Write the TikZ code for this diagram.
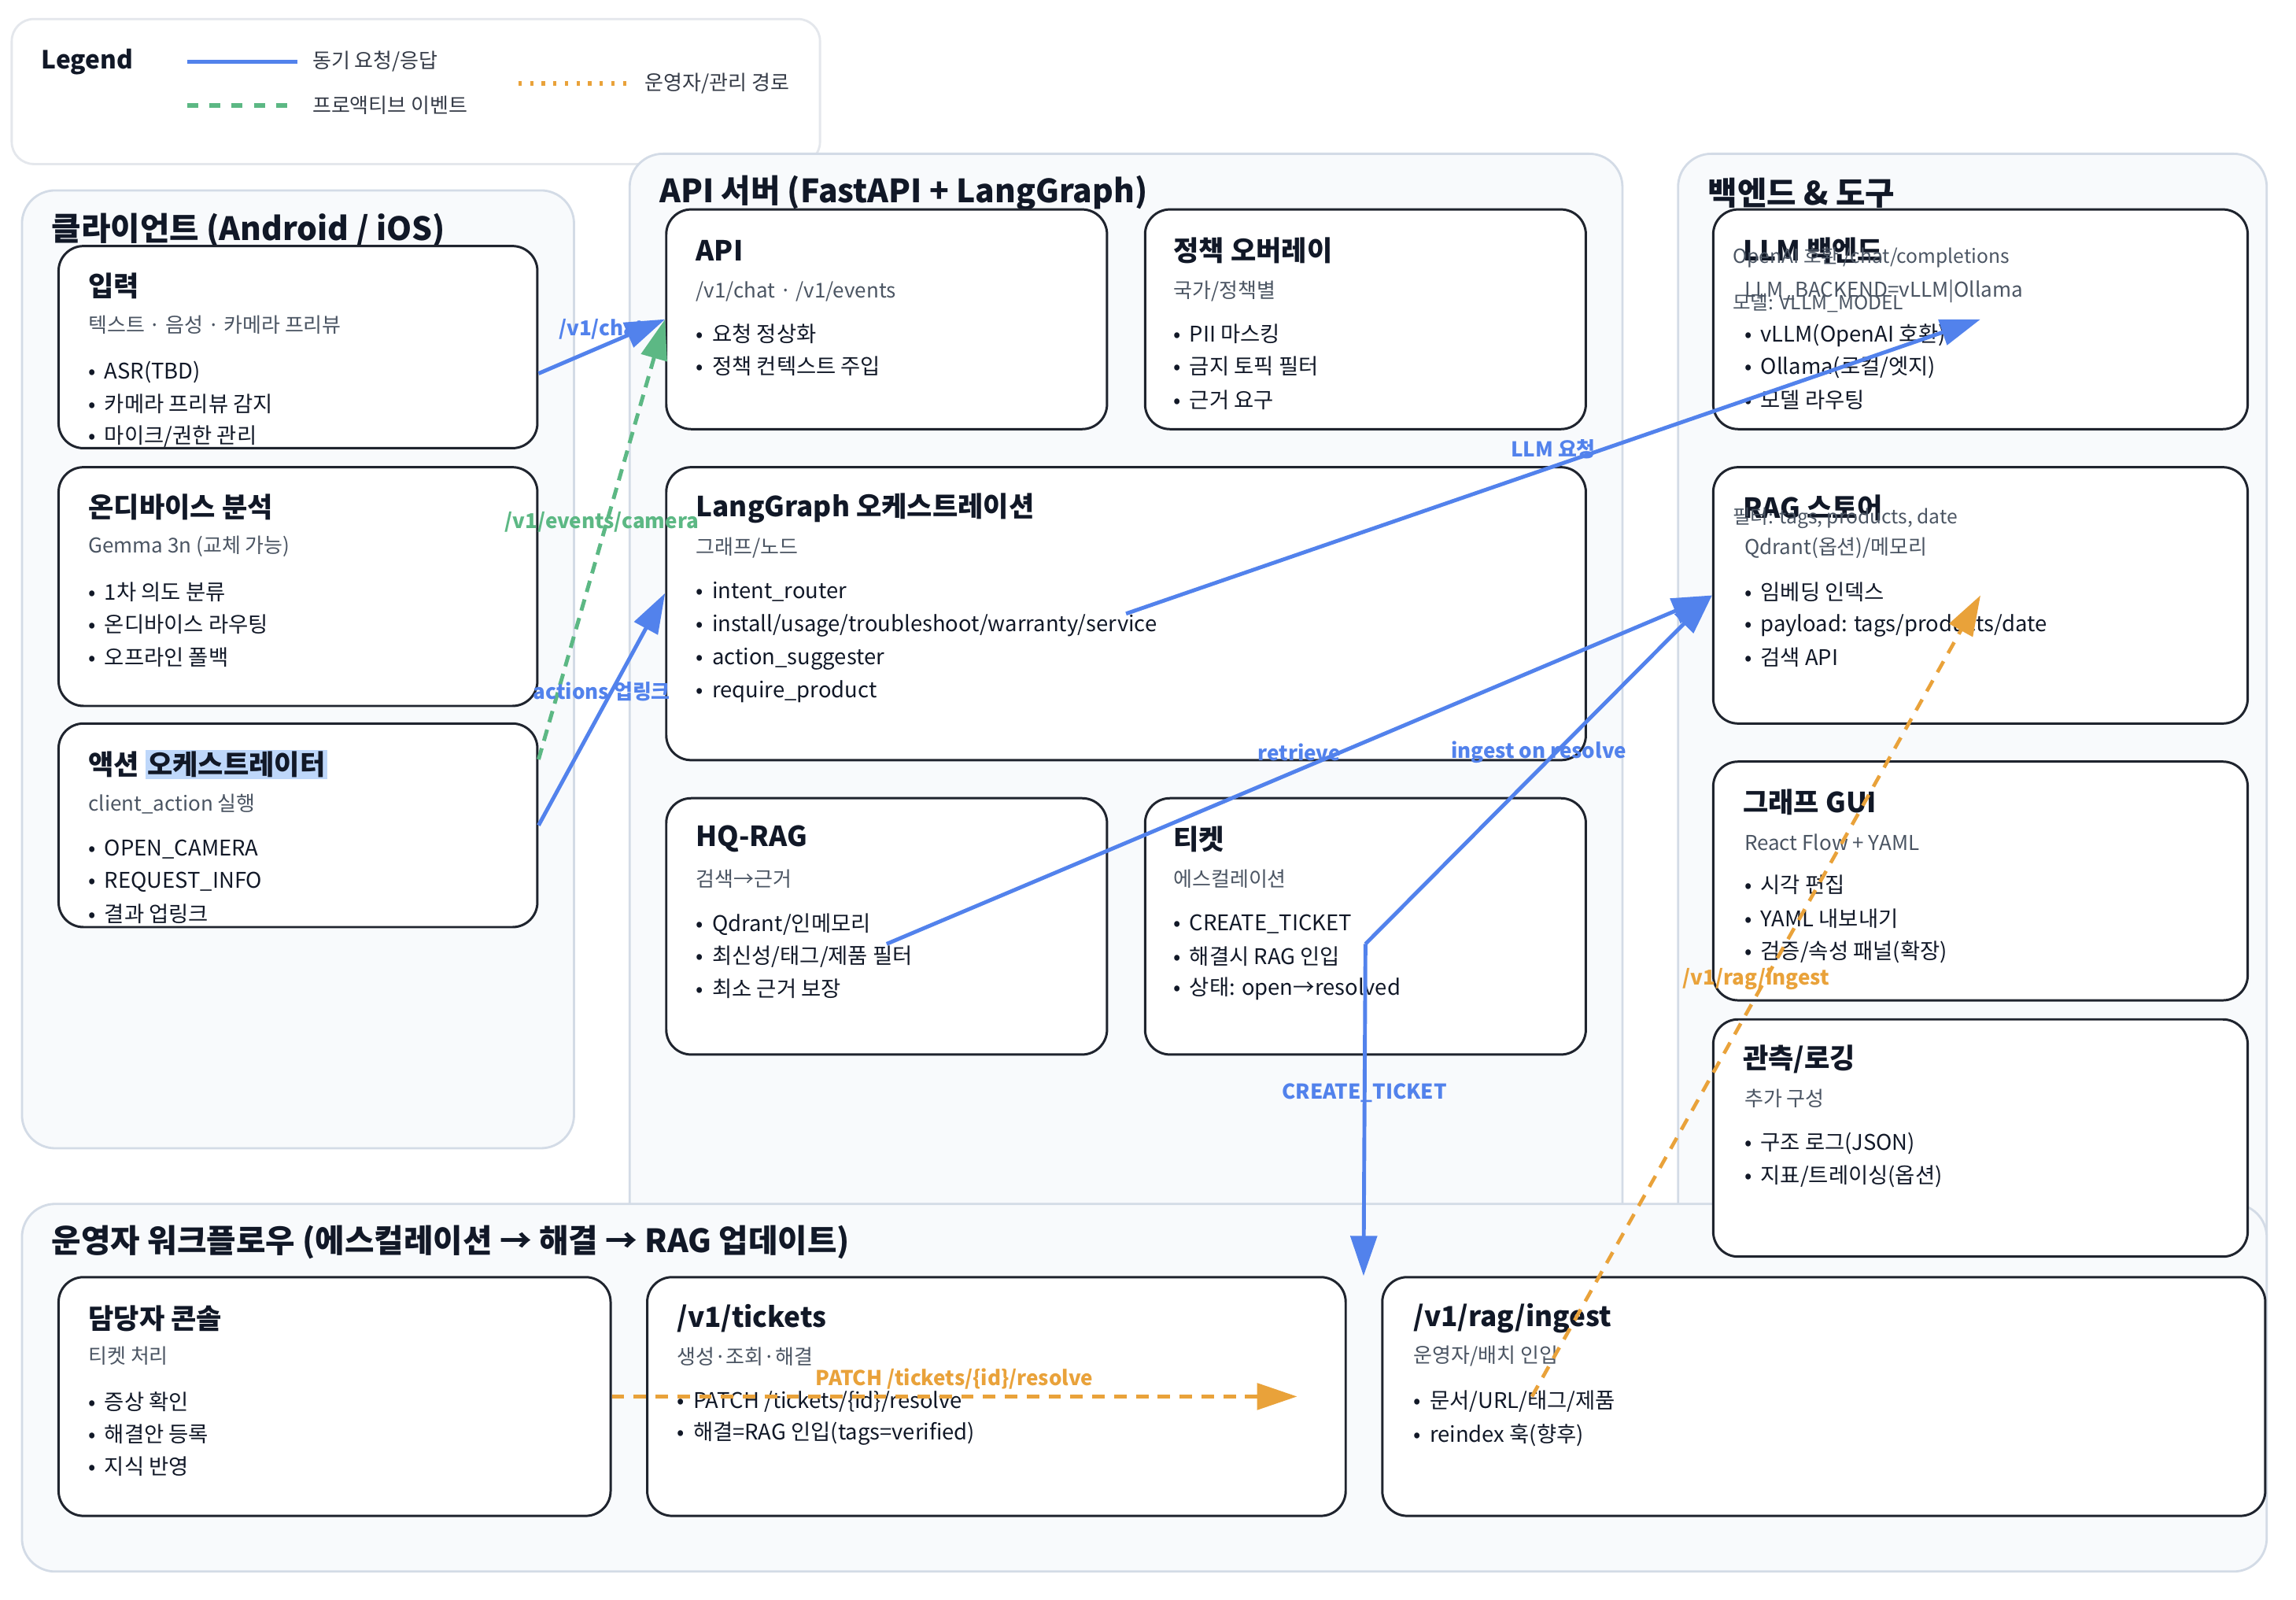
\documentclass[tikz,border=0pt]{standalone}
\usepackage{fontspec}
\setmainfont{Noto Sans CJK KR}
\setsansfont{Noto Sans CJK KR}
\usepackage{tikz}
\usetikzlibrary{arrows.meta,calc,fit}
\definecolor{linkblue}{RGB}{82,130,236}
\definecolor{eventgreen}{RGB}{92,184,132}
\definecolor{opsorange}{RGB}{233,162,58}
\definecolor{groupfill}{RGB}{248,250,252}
\definecolor{groupline}{RGB}{211,219,230}
\definecolor{legendline}{RGB}{228,231,236}
\definecolor{cardline}{RGB}{31,36,46}
\definecolor{inkdark}{RGB}{17,24,39}
\definecolor{subgray}{RGB}{75,85,99}
\definecolor{selblue}{RGB}{190,215,250}
\newcommand{\selmark}[1]{{\setlength{\fboxsep}{0.6pt}\colorbox{selblue}{#1}}}
\newcommand{\bul}{•\hspace{3.2pt}}

\begin{document}
\begin{tikzpicture}[x=0.01861cm, y=-0.01861cm,
  grp/.style={draw=groupline, fill=groupfill, line width=0.8pt, rounded corners=12pt, inner sep=0pt},
  card/.style={draw=cardline, fill=white, line width=0.85pt, rounded corners=9pt, inner sep=0pt},
  grptitle/.style={anchor=west, inner sep=0pt, text=inkdark, font=\fontsize{11.6}{13}\selectfont\bfseries},
  ctitle/.style={anchor=west, inner sep=0pt, text=inkdark, font=\fontsize{10}{12}\selectfont\bfseries},
  csub/.style={anchor=west, inner sep=0pt, text=subgray, font=\fontsize{7.4}{9}\selectfont},
  cnote/.style={anchor=west, inner sep=0pt, text=subgray, font=\fontsize{7}{8}\selectfont},
  cbul/.style={anchor=west, inner sep=0pt, text=inkdark, font=\fontsize{7.8}{9}\selectfont},
  leglabel/.style={anchor=west, inner sep=0pt, text=inkdark!85, font=\fontsize{7.4}{9}\selectfont},
  elabel/.style={midway, yshift=0.22cm, inner sep=0pt, font=\fontsize{7.4}{9}\selectfont\bfseries},
  tip/.style={-{Triangle[length=14.5pt,width=9.5pt]}},
  sync/.style={draw=linkblue, line width=1.4pt, tip},
  event/.style={draw=eventgreen, line width=1.4pt, dash pattern=on 4.2pt off 2.8pt, tip},
  ops/.style={draw=opsorange, line width=1.3pt, dash pattern=on 4.5pt off 3.4pt, tip}]
\fill[white] (0,0) rectangle (1568,1092);
\useasboundingbox (0,0) rectangle (1568,1092);

\node[draw=legendline, fill=white, line width=0.8pt, rounded corners=8pt, inner sep=0pt, fit={(8,13) (560,112)}] (legend) {};
\node[anchor=west, inner sep=0pt, text=inkdark, font=\fontsize{9}{10}\selectfont\bfseries] (legend-t) at (28,42) {Legend};
\draw[linkblue, line width=1.4pt] (128,42) -- (203,42);
\draw[eventgreen, line width=1.6pt, dash pattern=on 4pt off 4pt] (128,72) -- (200,72);
\draw[opsorange, line width=1.6pt, dash pattern=on 1.2pt off 3pt] (354,57) -- (428,57);
\node[leglabel] (legend-sync) at (213,42) {동기 요청/응답};
\node[leglabel] (legend-event) at (213,72) {프로액티브 이벤트};
\node[leglabel] (legend-ops) at (440,57) {운영자/관리 경로};

\node[grp, fit={(15,130) (392,784)}] (client) {};
\node[grp, fit={(430,105) (1108,900)}] (server) {};
\node[grp, fit={(1146,105) (1548,900)}] (backend) {};
\node[grp, fit={(15,822) (1548,1073)}] (operator) {};
\node[grptitle] (client-t) at (35,157) {클라이언트 (Android / iOS)};
\node[grptitle] (server-t) at (450,132) {API 서버 (FastAPI + LangGraph)};
\node[grptitle] (backend-t) at (1166,132) {백엔드 \& 도구};
\node[grptitle] (operator-t) at (35,848) {운영자 워크플로우 (에스컬레이션 → 해결 → RAG 업데이트)};

\node[card, fit={(40,168) (367,306)}] (inp) {};
\node[ctitle] (inp-t) at (60,195) {입력};
\node[csub] (inp-s) at (60,222) {텍스트 · 음성 · 카메라 프리뷰};
\foreach \yy/\txt [count=\k] in {254/ASR(TBD), 276/카메라 프리뷰 감지, 298/{마이크/권한 관리}}
  \node[cbul] (inp-b\k) at (60,\yy) {\bul\txt};

\node[card, fit={(40,319) (367,482)}] (dev) {};
\node[ctitle] (dev-t) at (60,346) {온디바이스 분석};
\node[csub] (dev-s) at (60,373) {Gemma 3n (교체 가능)};
\foreach \yy/\txt [count=\k] in {404/1차 의도 분류, 426/온디바이스 라우팅, 449/오프라인 폴백}
  \node[cbul] (dev-b\k) at (60,\yy) {\bul\txt};

\node[card, fit={(40,494) (367,633)}] (act) {};
\node[ctitle] (act-t) at (60,522) {액션 \selmark{오케스트레이터}};
\node[csub] (act-s) at (60,549) {client\_action 실행};
\foreach \yy/\txt [count=\k] in {580/OPEN\_CAMERA, 602/REQUEST\_INFO, 624/결과 업링크}
  \node[cbul] (act-b\k) at (60,\yy) {\bul\txt};

\node[card, fit={(455,143) (756,293)}] (api) {};
\node[ctitle] (api-t) at (475,171) {API};
\node[csub] (api-s) at (475,199) {/v1/chat · /v1/events};
\foreach \yy/\txt [count=\k] in {228/요청 정상화, 250/정책 컨텍스트 주입}
  \node[cbul] (api-b\k) at (475,\yy) {\bul\txt};

\node[card, fit={(782,143) (1083,293)}] (pol) {};
\node[ctitle] (pol-t) at (801,171) {정책 오버레이};
\node[csub] (pol-s) at (801,199) {국가/정책별};
\foreach \yy/\txt [count=\k] in {228/PII 마스킹, 250/금지 토픽 필터, 273/근거 요구}
  \node[cbul] (pol-b\k) at (801,\yy) {\bul\txt};

\node[card, fit={(455,319) (1083,519)}] (lg) {};
\node[ctitle] (lg-t) at (475,347) {LangGraph 오케스트레이션};
\node[csub] (lg-s) at (475,374) {그래프/노드};
\foreach \yy/\txt [count=\k] in {404/intent\_router, 427/{install/usage/troubleshoot/warranty/service}, 450/action\_suggester, 472/require\_product}
  \node[cbul] (lg-b\k) at (475,\yy) {\bul\txt};

\node[card, fit={(455,545) (756,720)}] (hq) {};
\node[ctitle] (hq-t) at (475,573) {HQ-RAG};
\node[csub] (hq-s) at (475,600) {검색→근거};
\foreach \yy/\txt [count=\k] in {631/{Qdrant/인메모리}, 653/{최신성/태그/제품 필터}, 675/최소 근거 보장}
  \node[cbul] (hq-b\k) at (475,\yy) {\bul\txt};

\node[card, fit={(782,545) (1083,720)}] (tk) {};
\node[ctitle] (tk-t) at (801,573) {티켓};
\node[csub] (tk-s) at (801,600) {에스컬레이션};
\foreach \yy/\txt [count=\k] in {631/CREATE\_TICKET, 653/해결시 RAG 인입, 675/상태: open→resolved}
  \node[cbul] (tk-b\k) at (801,\yy) {\bul\txt};

\node[card, fit={(1170,143) (1535,293)}] (llm) {};
\node[ctitle] (llm-t) at (1190,171) {LLM 백엔드};
\node[cnote] (llm-n1) at (1183,176) {OpenAI 호환 /chat/completions};
\node[csub] (llm-s) at (1191,199) {LLM\_BACKEND=vLLM|Ollama};
\node[cnote] (llm-n2) at (1183,207) {모델: VLLM\_MODEL};
\foreach \yy/\txt [count=\k] in {229/vLLM(OpenAI 호환), 251/{Ollama(로컬/엣지)}, 273/모델 라우팅}
  \node[cbul] (llm-b\k) at (1191,\yy) {\bul\txt};

\node[card, fit={(1170,319) (1535,494)}] (rag) {};
\node[ctitle] (rag-t) at (1190,347) {RAG 스토어};
\node[cnote] (rag-n) at (1183,354) {필터: tags, products, date};
\node[csub] (rag-s) at (1191,374) {Qdrant(옵션)/메모리};
\foreach \yy/\txt [count=\k] in {404/임베딩 인덱스, 427/{payload: tags/products/date}, 449/검색 API}
  \node[cbul] (rag-b\k) at (1191,\yy) {\bul\txt};

\node[card, fit={(1170,520) (1535,683)}] (gui) {};
\node[ctitle] (gui-t) at (1190,548) {그래프 GUI};
\node[csub] (gui-s) at (1191,575) {React Flow + YAML};
\foreach \yy/\txt [count=\k] in {604/시각 편집, 627/YAML 내보내기, 650/{검증/속성 패널(확장)}}
  \node[cbul] (gui-b\k) at (1191,\yy) {\bul\txt};

\node[card, fit={(1170,696) (1535,858)}] (obs) {};
\node[ctitle] (obs-t) at (1190,723) {관측/로깅};
\node[csub] (obs-s) at (1191,750) {추가 구성};
\foreach \yy/\txt [count=\k] in {781/구조 로그(JSON), 803/{지표/트레이싱(옵션)}}
  \node[cbul] (obs-b\k) at (1191,\yy) {\bul\txt};

\node[card, fit={(40,872) (417,1035)}] (con) {};
\node[ctitle] (con-t) at (60,900) {담당자 콘솔};
\node[csub] (con-s) at (60,926) {티켓 처리};
\foreach \yy/\txt [count=\k] in {957/증상 확인, 979/해결안 등록, 1001/지식 반영}
  \node[cbul] (con-b\k) at (60,\yy) {\bul\txt};

\node[card, fit={(442,872) (919,1035)}] (tix) {};
\node[ctitle] (tix-t) at (462,900) {/v1/tickets};
\node[csub] (tix-s) at (462,926) {생성·조회·해결};
\foreach \yy/\txt [count=\k] in {957/{PATCH /tickets/\{id\}/resolve}, 979/해결=RAG 인입(tags=verified)}
  \node[cbul] (tix-b\k) at (462,\yy) {\bul\txt};

\node[card, fit={(944,872) (1547,1035)}] (ing) {};
\node[ctitle] (ing-t) at (965,900) {/v1/rag/ingest};
\node[csub] (ing-s) at (965,926) {운영자/배치 인입};
\foreach \yy/\txt [count=\k] in {957/{문서/URL/태그/제품}, 980/reindex 훅(향후)}
  \node[cbul] (ing-b\k) at (965,\yy) {\bul\txt};

\coordinate (tkdrop) at ($(ing.north west)+(-12,0)$);
\coordinate (patchend) at ($(tix.east)+(-34,0)$);

\draw[sync] ($(inp.east)+(0,18)$) -- (api.west) node[elabel, text=linkblue] {/v1/chat};
\draw[event] ($(act.east)+(0,-45)$) -- (api.west) node[elabel, text=eventgreen] {/v1/events/camera};
\draw[sync] (act.east) -- ($(lg.west)+(0,-14)$) node[elabel, text=linkblue] {actions 업링크};
\draw[sync] (lg.center) -- (llm.center) node[elabel, text=linkblue] {LLM 요청};
\draw[sync] ($(hq.center)+(0,12)$) -- (rag.west) node[elabel, text=linkblue] {retrieve};
\draw[sync] ($(tk.center)+(0,12)$) -- (rag.west) node[elabel, text=linkblue] {ingest on resolve};
\draw[sync] ($(tk.center)+(0,12)$) -- (tkdrop) node[elabel, text=linkblue] {CREATE\_TICKET};
\draw[ops] (con.east) -- (patchend) node[elabel, text=opsorange] {PATCH /tickets/\{id\}/resolve};
\draw[ops] ($(ing.west)+(103,0)$) -- (rag.center) node[elabel, text=opsorange] {/v1/rag/ingest};
\end{tikzpicture}
\end{document}
